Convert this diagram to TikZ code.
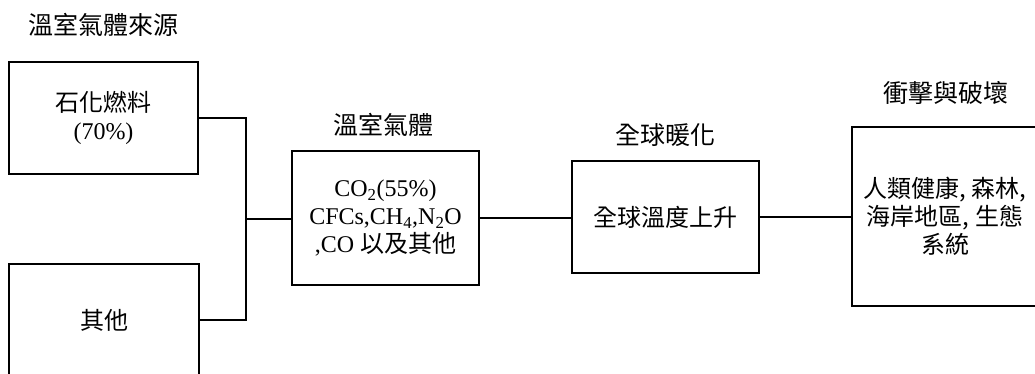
\documentclass[tikz,border=0pt]{standalone}
\usepackage{fontspec}
\setmainfont{Liberation Serif}
\newfontfamily\cjk{Noto Sans CJK TC}
\begin{document}
\begin{tikzpicture}[x=1pt,y=-1pt,
  box/.style={draw, line width=1.3pt, inner sep=0pt, align=center,
    font=\fontsize{24}{28}\selectfont},
  title/.style={inner sep=0pt, font=\cjk\fontsize{25}{28}\selectfont},
  conn/.style={line width=1.3pt}]
\useasboundingbox (0,0) rectangle (1035,374);
\clip (0,0) rectangle (1035,374);
\fill[white] (0,0) rectangle (1035,374);
% titles
\node[title] (t1) at (103,25) {溫室氣體來源};
\node[title] (t3) at (383,125) {溫室氣體};
\node[title] (t4) at (665,135) {全球暖化};
\node[title] (t5) at (946,93) {衝擊與破壞};
% boxes
\node[box, minimum width=189pt, minimum height=112pt] (b1) at (103.5,118)
  {{\cjk 石化燃料}\\(70\%)};
\node[box, minimum width=190pt, minimum height=112pt] (b2) at (104,320)
  {\cjk 其他};
\node[box, minimum width=187pt, minimum height=134pt] (b3) at (385.5,218)
  {CO\textsubscript{2}(55\%)\\CFCs,CH\textsubscript{4},N\textsubscript{2}O\\,CO {\cjk 以及其他}};
\node[box, minimum width=187pt, minimum height=112pt] (b4) at (665.5,217)
  {\cjk 全球溫度上升};
\node[box, minimum width=186pt, minimum height=179pt] (b5) at (945,216.5)
  {\cjk 人類健康, 森林,\\\cjk 海岸地區, 生態\\\cjk 系統};
% connectors
\coordinate (j) at (246,219);
\draw[conn] (b1.east) -| (j) |- (b2.east);
\draw[conn] (j) -- (b3.west |- j);
\draw[conn] (b3.east) -- (b4.west |- b3.east);
\draw[conn] (b4.east) -- (b5.west |- b4.east);
\end{tikzpicture}
\end{document}
